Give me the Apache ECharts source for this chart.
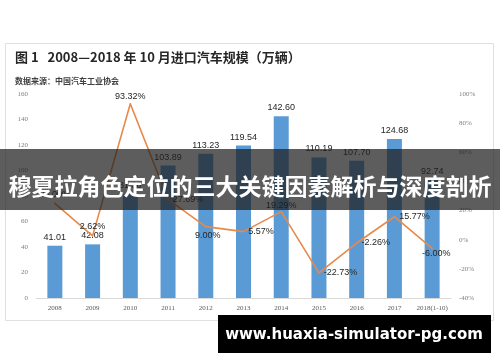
<!DOCTYPE html>
<html>
<head>
<meta charset="utf-8">
<script src="https://cdn.jsdelivr.net/npm/echarts@6/dist/echarts.min.js"></script>
<style>
html,body{margin:0;padding:0;background:#fff;}
#c{width:500px;height:362px;}
</style>
</head>
<body>
<div id="c"></div>
<script>
var categories = ['2008','2009','2010','2011','2012','2013','2014','2015','2016','2017','2018(1-10)'];
var importVolume = [41.01, 42.08, 81.36, 103.89, 113.23, 119.54, 142.60, 110.19, 107.70, 124.68, 92.74];
var growthRate = [25.0, 2.62, 93.32, 27.69, 9.00, 5.57, 19.29, -22.73, -2.26, 15.77, -6.00];
var leftTicks = [0, 160, 20];
var rightTicks = [-40, 100, 20];

var linePos = ['top','top','top','right','bottom','right','top','right','right','right','bottom'];
var lineOffset = [[0,0],[0,0],[0,2],[0,0],[2,0],[0,0],[0,3],[0,0],[0,0],[0,0],[4,-4]];

var chart = echarts.init(document.getElementById('c'));
var lineData = growthRate.map(function(v, i){
  return {value: v, label: {position: linePos[i], offset: lineOffset[i]}};
});
chart.setOption({
  animation: false,
  backgroundColor: '#fff',
  grid: {left: 36, right: 49, top: 94, bottom: 64, containLabel: false},
  xAxis: {
    type: 'category',
    data: categories,
    axisLine: {lineStyle: {color: '#d9d9d9'}},
    axisTick: {show: false},
    axisLabel: {color: '#595959', fontSize: 7, fontFamily: 'Liberation Serif', margin: 7, interval: 0}
  },
  yAxis: [{
    type: 'value', min: leftTicks[0], max: leftTicks[1], interval: leftTicks[2],
    splitLine: {show: false}, axisLine: {show: false}, axisTick: {show: false},
    axisLabel: {color: '#7f7f7f', fontSize: 7, fontFamily: 'Liberation Serif', margin: 8}
  }, {
    type: 'value', min: rightTicks[0], max: rightTicks[1], interval: rightTicks[2],
    alignTicks: false,
    splitLine: {show: false}, axisLine: {show: false}, axisTick: {show: false},
    axisLabel: {color: '#7f7f7f', fontSize: 7, fontFamily: 'Liberation Serif', margin: 8, formatter: '{value}%'}
  }],
  series: [{
    type: 'bar',
    data: importVolume,
    barWidth: 15,
    z: 2,
    itemStyle: {color: '#5B9BD5'},
    label: {show: true, position: 'top', color: '#262626', fontSize: 9, fontFamily: 'Liberation Sans',
      formatter: function(p){ return p.value.toFixed(2); }, distance: 4}
  }, {
    type: 'line',
    yAxisIndex: 1,
    z: 3,
    data: lineData,
    symbol: 'circle',
    symbolSize: 1.5,
    showSymbol: true,
    itemStyle: {color: '#E8894A'},
    lineStyle: {color: '#E8894A', width: 1.6},
    label: {show: true, color: '#262626', fontSize: 9, fontFamily: 'Liberation Sans', distance: 4,
      formatter: function(p){ return p.value.toFixed(2) + '%'; }}
  }],
  graphic: [
    {type: 'rect', z: -1, silent: true, shape: {x: 5.5, y: 43.5, width: 488, height: 277},
      style: {fill: '#fff', stroke: '#e0e0e0', lineWidth: 1}},
    {type: 'text', left: 15, top: 51, style: {text: '图 1   2008—2018 年 10 月进口汽车规模（万辆）',
      font: 'bold 13px "Noto Sans CJK SC"', fill: '#262626'}},
    {type: 'text', left: 15, top: 77, style: {text: '数据来源：中国汽车工业协会',
      font: 'bold 8px "Noto Sans CJK SC"', fill: '#404040'}},
    {type: 'rect', z: 100, silent: true, shape: {x: 0, y: 149, width: 500, height: 61},
      style: {fill: 'rgba(30,30,30,0.72)'}},
    {type: 'text', z: 101, x: 250, y: 186, style: {text: '穆夏拉角色定位的三大关键因素解析与深度剖析',
      font: 'bold 23px "Noto Sans CJK SC"', fill: '#fff', align: 'center', verticalAlign: 'middle'}},
    {type: 'rect', z: 100, silent: true, shape: {x: 218, y: 315, width: 273, height: 38},
      style: {fill: '#000'}},
    {type: 'text', z: 101, x: 354, y: 335, style: {text: 'www.huaxia-simulator-pg.com',
      font: 'bold 15px "DejaVu Sans"', fill: '#fff', align: 'center', verticalAlign: 'middle'}}
  ]
});
</script>
</body>
</html>
